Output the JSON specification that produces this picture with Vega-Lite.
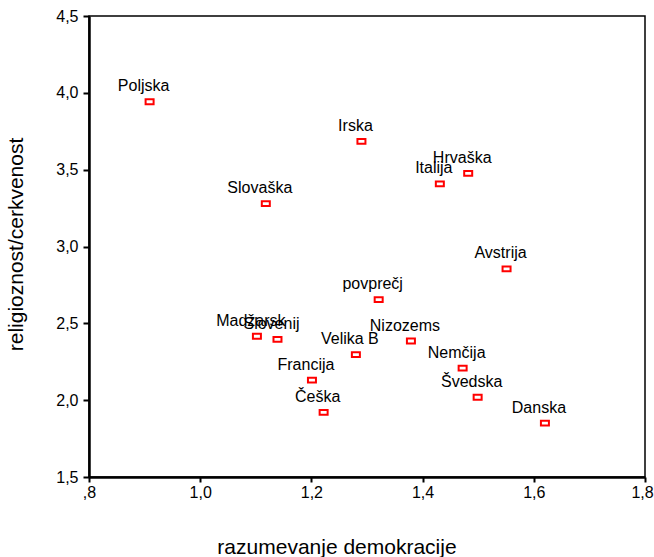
{
  "$schema": "https://vega.github.io/schema/vega-lite/v6.json",
  "width": 556,
  "height": 461,
  "autosize": {"type": "none"},
  "padding": {"left": 89, "top": 16, "right": 9, "bottom": 80},
  "background": "white",
  "config": {
    "view": {"stroke": "black", "strokeWidth": 1.5},
    "font": "Liberation Sans"
  },
  "data": {
    "values": [
      {"country": "Poljska", "demokracija": 0.909, "religioznost": 3.942},
      {"country": "Slovaška", "demokracija": 1.118, "religioznost": 3.279},
      {"country": "Irska", "demokracija": 1.290, "religioznost": 3.684},
      {"country": "Hrvaška", "demokracija": 1.482, "religioznost": 3.476},
      {"country": "Italija", "demokracija": 1.431, "religioznost": 3.407},
      {"country": "Avstrija", "demokracija": 1.551, "religioznost": 2.855},
      {"country": "povprečj", "demokracija": 1.321, "religioznost": 2.654},
      {"country": "Nizozems", "demokracija": 1.379, "religioznost": 2.385},
      {"country": "Velika B", "demokracija": 1.280, "religioznost": 2.297},
      {"country": "Nemčija", "demokracija": 1.472, "religioznost": 2.208},
      {"country": "Švedska", "demokracija": 1.499, "religioznost": 2.019},
      {"country": "Danska", "demokracija": 1.620, "religioznost": 1.851},
      {"country": "Madžarsk", "demokracija": 1.102, "religioznost": 2.416},
      {"country": "Slovenij", "demokracija": 1.139, "religioznost": 2.396},
      {"country": "Francija", "demokracija": 1.201, "religioznost": 2.130},
      {"country": "Češka", "demokracija": 1.222, "religioznost": 1.920}
    ]
  },
  "encoding": {
    "x": {
      "field": "demokracija",
      "type": "quantitative",
      "scale": {"domain": [0.8, 1.8], "nice": false, "zero": false},
      "axis": {
        "title": "razumevanje demokracije",
        "values": [0.8, 1.0, 1.2, 1.4, 1.6, 1.8],
        "labelExpr": "datum.value < 1 ? ',' + substring(format(datum.value, '.1f'), 2) : replace(format(datum.value, '.1f'), '.', ',')",
        "grid": false,
        "domainColor": "black",
        "domainWidth": 2.5,
        "tickColor": "black",
        "tickWidth": 2,
        "tickSize": 5,
        "labelFontSize": 16,
        "labelColor": "black",
        "labelPadding": 2,
        "labelFlush": false,
        "labelOverlap": false,
        "labelOffset": {"condition": {"test": "datum.value >= 1.79", "value": -3}, "value": 0},
        "titleFontSize": 21,
        "titleFontWeight": "normal",
        "titleColor": "black",
        "titleX": 247.5,
        "titleY": 76,
        "titleAlign": "center",
        "titleBaseline": "alphabetic"
      }
    },
    "y": {
      "field": "religioznost",
      "type": "quantitative",
      "scale": {"domain": [1.5, 4.5], "nice": false, "zero": false},
      "axis": {
        "title": "religioznost/cerkvenost",
        "values": [1.5, 2.0, 2.5, 3.0, 3.5, 4.0, 4.5],
        "labelExpr": "replace(format(datum.value, '.1f'), '.', ',')",
        "grid": false,
        "domainColor": "black",
        "domainWidth": 2.5,
        "tickColor": "black",
        "tickWidth": 2,
        "tickSize": 6,
        "labelFontSize": 16,
        "labelColor": "black",
        "labelPadding": 5,
        "labelFlush": false,
        "labelOverlap": false,
        "titleFontSize": 21,
        "titleFontWeight": "normal",
        "titleColor": "black",
        "titleAngle": -90,
        "titleX": -73,
        "titleY": 228,
        "titleAlign": "center",
        "titleBaseline": "middle"
      }
    }
  },
  "layer": [
    {
      "mark": {
        "type": "point",
        "shape": "M-1,-0.6H1V0.6H-1Z",
        "filled": false,
        "fill": "white",
        "stroke": "#ff0000",
        "strokeWidth": 2,
        "size": 64,
        "opacity": 1
      }
    },
    {
      "mark": {
        "type": "text",
        "dx": -6,
        "dy": -10.5,
        "baseline": "alphabetic",
        "align": "center",
        "fontSize": 16,
        "color": "black"
      },
      "encoding": {"text": {"field": "country"}}
    }
  ]
}
